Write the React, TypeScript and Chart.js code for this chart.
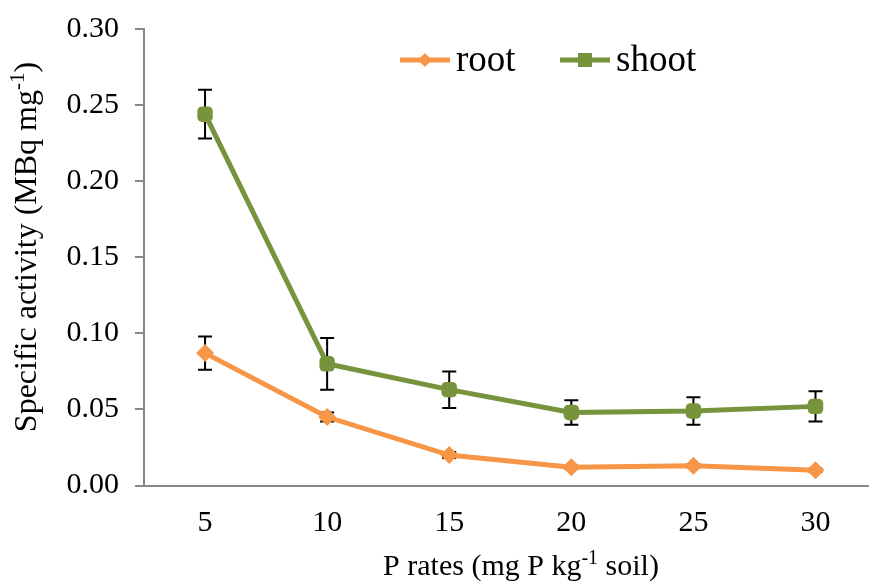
import React, { useEffect, useRef } from "react";
import { Chart, registerables } from "chart.js";

Chart.register(...registerables);

const pRates = [5, 10, 15, 20, 25, 30];
const rootValues = [0.087, 0.045, 0.02, 0.012, 0.013, 0.01];
const rootErrors = [0.011, 0.003, 0.002, 0.001, 0.001, 0.001];
const shootValues = [0.244, 0.08, 0.063, 0.048, 0.049, 0.052];
const shootErrors = [0.016, 0.017, 0.012, 0.008, 0.009, 0.01];
const yTicks = [0, 0.05, 0.1, 0.15, 0.2, 0.25, 0.3];

const ROOT_COLOR = "#F79646";
const SHOOT_COLOR = "#77933C";
const FONT = "'Liberation Serif', 'Times New Roman', serif";
const TICK_SIZE = 30;
const TITLE_SIZE = 30;
const YTITLE_SIZE = 32;
const LEGEND_SIZE = 37;

type Seg = { t: string; sup?: boolean };

function drawSegs(ctx: CanvasRenderingContext2D, segs: Seg[], size: number, cx: number, cy: number) {
  const widths = segs.map((s) => {
    ctx.font = `${s.sup ? Math.round(size * 0.65) : size}px ${FONT}`;
    return ctx.measureText(s.t).width;
  });
  const total = widths.reduce((a, b) => a + b, 0);
  let x = cx - total / 2;
  ctx.textBaseline = "alphabetic";
  ctx.textAlign = "left";
  segs.forEach((s, i) => {
    ctx.font = `${s.sup ? Math.round(size * 0.65) : size}px ${FONT}`;
    ctx.fillText(s.t, x, cy + (s.sup ? -size * 0.38 : 0));
    x += widths[i];
  });
}

const errorBarPlugin = {
  id: "errorBars",
  beforeDatasetsDraw(chart: any) {
    const ctx = chart.ctx;
    const xs = chart.scales.x;
    const ys = chart.scales.y;
    const sets = [
      { v: rootValues, e: rootErrors },
      { v: shootValues, e: shootErrors },
    ];
    ctx.save();
    ctx.strokeStyle = "#000";
    ctx.lineWidth = 2;
    sets.forEach((s) => {
      pRates.forEach((p, i) => {
        const x = xs.getPixelForValue(p);
        const y1 = ys.getPixelForValue(s.v[i] + s.e[i]);
        const y2 = ys.getPixelForValue(s.v[i] - s.e[i]);
        ctx.beginPath();
        ctx.moveTo(x, y1);
        ctx.lineTo(x, y2);
        ctx.moveTo(x - 7, y1);
        ctx.lineTo(x + 7, y1);
        ctx.moveTo(x - 7, y2);
        ctx.lineTo(x + 7, y2);
        ctx.stroke();
      });
    });
    ctx.restore();
  },
};

const titlesPlugin = {
  id: "titlesLegend",
  afterDraw(chart: any) {
    const ctx = chart.ctx;
    ctx.save();
    ctx.fillStyle = "#000";
    // x title
    drawSegs(
      ctx,
      [{ t: "P rates (mg P kg" }, { t: "-1", sup: true }, { t: " soil)" }],
      TITLE_SIZE,
      521,
      575
    );
    // y title
    ctx.save();
    ctx.translate(36, 247);
    ctx.rotate(-Math.PI / 2);
    drawSegs(
      ctx,
      [{ t: "Specific activity (MBq mg" }, { t: "-1", sup: true }, { t: ")" }],
      YTITLE_SIZE,
      0,
      0
    );
    ctx.restore();
    // legend
    const items = [
      { label: "root", color: ROOT_COLOR, style: "diamond", x: 400 },
      { label: "shoot", color: SHOOT_COLOR, style: "square", x: 560 },
    ];
    const ly = 60;
    items.forEach((it) => {
      ctx.strokeStyle = it.color;
      ctx.fillStyle = it.color;
      ctx.lineWidth = 5;
      ctx.beginPath();
      ctx.moveTo(it.x, ly);
      ctx.lineTo(it.x + 50, ly);
      ctx.stroke();
      const mx = it.x + 25;
      ctx.beginPath();
      if (it.style === "diamond") {
        ctx.moveTo(mx, ly - 7);
        ctx.lineTo(mx + 7, ly);
        ctx.lineTo(mx, ly + 7);
        ctx.lineTo(mx - 7, ly);
        ctx.closePath();
      } else {
        ctx.rect(mx - 7, ly - 7, 14, 14);
      }
      ctx.fill();
      ctx.fillStyle = "#000";
      ctx.font = `${LEGEND_SIZE}px ${FONT}`;
      ctx.textAlign = "left";
      ctx.textBaseline = "middle";
      ctx.fillText(it.label, it.x + 56, ly + 1);
    });
    ctx.restore();
  },
};

export default function App() {
  const ref = useRef<HTMLCanvasElement>(null);
  useEffect(() => {
    if (!ref.current) return;
    const chart = new Chart(ref.current, {
      type: "line",
      data: {
        datasets: [
          {
            label: "root",
            data: pRates.map((p, i) => ({ x: p, y: rootValues[i] })),
            borderColor: ROOT_COLOR,
            backgroundColor: ROOT_COLOR,
            borderWidth: 5,
            pointStyle: "rectRot",
            pointRadius: 9,
            pointBorderWidth: 0,
            tension: 0,
          },
          {
            label: "shoot",
            data: pRates.map((p, i) => ({ x: p, y: shootValues[i] })),
            borderColor: SHOOT_COLOR,
            backgroundColor: SHOOT_COLOR,
            borderWidth: 5,
            pointStyle: "rectRounded",
            pointRadius: 9,
            pointBorderWidth: 0,
            tension: 0,
          },
        ],
      },
      options: {
        responsive: false,
        animation: false,
        layout: { padding: { top: 29, right: 1, left: 0, bottom: 0 } },
        plugins: { legend: { display: false }, tooltip: { enabled: false } },
        scales: {
          x: {
            type: "linear",
            min: 2.5,
            max: 32.15,
            afterBuildTicks: (s: any) => {
              s.ticks = pRates.map((v) => ({ value: v }));
            },
            afterFit: (s: any) => {
              s.height = 99.5;
              s.paddingLeft = 0;
              s.paddingRight = 0;
            },
            grid: { display: false, drawTicks: false },
            border: { display: true, color: "#888888", width: 2 },
            ticks: {
              color: "#000",
              padding: 20,
              maxRotation: 0,
              font: { family: FONT, size: TICK_SIZE },
              callback: (v: any) => String(v),
            },
          },
          y: {
            min: 0,
            max: 0.3,
            afterBuildTicks: (s: any) => {
              s.ticks = yTicks.map((v) => ({ value: v }));
            },
            afterFit: (s: any) => {
              s.width = 144;
              s.paddingTop = 0;
              s.paddingBottom = 0;
            },
            grid: {
              display: true,
              drawOnChartArea: false,
              drawTicks: true,
              tickLength: 9,
              color: "#888888",
              lineWidth: 2,
            },
            border: { display: true, color: "#888888", width: 2 },
            ticks: {
              color: "#000",
              padding: 16,
              font: { family: FONT, size: TICK_SIZE },
              callback: (v: any) => Number(v).toFixed(2),
            },
          },
        },
      },
      plugins: [errorBarPlugin, titlesPlugin],
    });
    return () => chart.destroy();
  }, []);
  return (
    <div style={{ position: "fixed", left: 0, top: 0, width: 877, height: 585, background: "#fff" }}>
      <canvas ref={ref} width={877} height={585} />
    </div>
  );
}
